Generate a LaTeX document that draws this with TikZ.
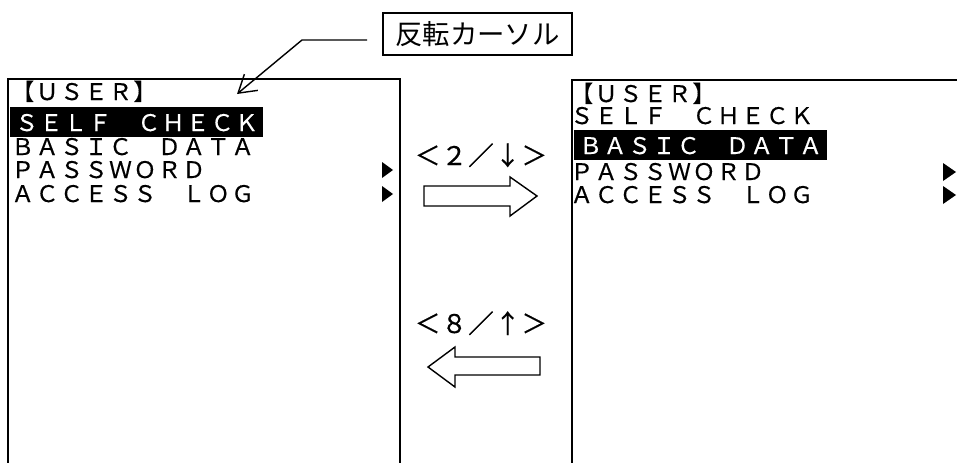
\documentclass[tikz,border=0pt]{standalone}
\usepackage{fontspec}
\setmainfont{Noto Sans CJK JP}
\newfontfamily\pantalla[FakeBold=0.5,LetterSpace=7]{Noto Sans CJK JP}
\newfontfamily\teclas[FakeBold=0.4,LetterSpace=4]{Noto Sans CJK JP}
\usetikzlibrary{arrows.meta}

\begin{document}
\begin{tikzpicture}[x=0.02cm,y=-0.02cm,
    marco/.style={line width=1.1pt},
    linea/.style={anchor=base west,inner sep=0pt,font=\pantalla\fontsize{13pt}{14pt}\selectfont},
    invertida/.style={linea,fill=black,text=white,inner xsep=2.8pt,inner ysep=0pt,
        text height=13.6pt,text depth=3.4pt},
    tecla/.style={anchor=base,inner sep=0pt,font=\teclas\fontsize{14.6pt}{15pt}\selectfont},
    flecha/.style={line width=0.8pt,fill=white,line join=miter}]
    \useasboundingbox (0,0) rectangle (957,463);

    % Pantallas
    \draw[marco] (8,463) -- (8,79) -- (400,79) -- (400,463);
    \draw[marco] (572,463) -- (572,80) -- (957,80);

    % Pantalla izquierda
    \node[linea] (usrA) at (11,100) {【ＵＳＥＲ】};
    \node[invertida] (selfA) at (10,131) {ＳＥＬＦ　ＣＨＥＣＫ};
    \node[linea] (basicA) at (11,155) {ＢＡＳＩＣ　ＤＡＴＡ};
    \node[linea] (passA) at (11,178) {ＰＡＳＳＷＯＲＤ};
    \node[linea] (logA) at (11,202) {ＡＣＣＥＳＳ　ＬＯＧ};
    \fill (382,162) -- (393,170) -- (382,178) -- cycle;
    \fill (382,186) -- (393,194) -- (382,202) -- cycle;

    % Pantalla derecha
    \node[linea] (usrB) at (570,102) {【ＵＳＥＲ】};
    \node[linea] (selfB) at (570,124) {ＳＥＬＦ　ＣＨＥＣＫ};
    \node[invertida] (basicB) at (574,154) {ＢＡＳＩＣ　ＤＡＴＡ};
    \node[linea] (passB) at (570,180) {ＰＡＳＳＷＯＲＤ};
    \node[linea] (logB) at (570,203) {ＡＣＣＥＳＳ　ＬＯＧ};
    \fill (943,163) -- (956,172) -- (943,181) -- cycle;
    \fill (943,186) -- (956,195) -- (943,204) -- cycle;

    % Teclas
    \node[tecla] (abajo) at (481,165) {＜２／↓＞};
    \draw[flecha] (424,186) -- (510,186) -- (510,177) -- (537,196) -- (510,216) -- (510,206) -- (424,206) -- cycle;
    \node[tecla] (arriba) at (481,333) {＜８／↑＞};
    \draw[flecha] (540,357) -- (455,357) -- (455,347) -- (428,367) -- (455,387) -- (455,375) -- (540,375) -- cycle;

    % Cursor
    \node[draw,line width=0.8pt,minimum width=3.78cm,minimum height=0.84cm,inner sep=0pt,
        font=\fontsize{15.6pt}{16pt}\selectfont] (cursor) at (477.5,34) {反転カーソル};
    \coordinate (inicio) at (367,40);
    \coordinate (codo) at (302,40);
    \coordinate (punta) at (237,94);
    \draw[line width=0.8pt,-{Straight Barb[length=3.4mm,width=4.2mm]}] (inicio) -- (codo) -- (punta);
\end{tikzpicture}
\end{document}
